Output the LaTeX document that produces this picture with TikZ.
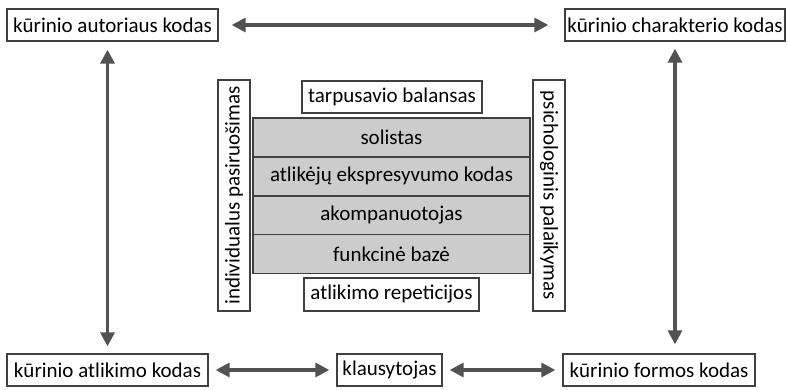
\documentclass[tikz,border=0pt]{standalone}
\usepackage{fontspec}
\setmainfont{Carlito}
\usetikzlibrary{arrows.meta,positioning}

\begin{document}
\begin{tikzpicture}[
  x=1pt, y=-1pt,
  font=\fontsize{21}{23}\selectfont,
  code/.style={rectangle, draw=black!75, line width=1.3pt, fill=white,
               align=center, inner sep=2pt, minimum height=32pt},
  layer/.style={rectangle, draw=black!75, line width=1.3pt, fill=black!20,
                align=center, inner sep=2pt, minimum width=277pt, minimum height=39pt},
  side/.style={rectangle, draw=black!75, line width=1.3pt, fill=white,
               align=center, inner sep=2pt, minimum width=231pt, minimum height=32pt},
  arr/.style={{Triangle[length=14pt,width=14pt]}-{Triangle[length=14pt,width=14pt]},
              line width=3.2pt, draw=black!68},
]
\useasboundingbox (0,0) rectangle (788,390);
% --- corner codes ---
\node[code, minimum width=211pt] (author) at (112.5,25) {kūrinio autoriaus kodas};
\node[code, minimum width=220pt] (charact) at (675,25) {kūrinio charakterio kodas};
\node[code, minimum width=201pt] (perform) at (107.5,370) {kūrinio atlikimo kodas};
\node[code, minimum width=105pt] (listener) at (389.5,370) {klausytojas};
\node[code, minimum width=192pt] (form) at (659,370) {kūrinio formos kodas};
% --- central stack ---
\node[layer] (solo) at (391.5,137.5) {solistas};
\node[layer] (expr) at (391.5,176.5) {atlikėjų ekspresyvumo kodas};
\node[layer] (accomp) at (391.5,215.5) {akompanuotojas};
\node[layer] (base) at (391.5,254) {funkcinė bazė};
\node[code, minimum width=180pt] (balance) at (392,97) {tarpusavio balansas};
\node[code, minimum width=175pt, minimum height=33pt] (rehearse) at (391.5,294.5) {atlikimo repeticijos};
% --- side bars ---
\node[side, rotate=90] (prep) at (234,195.5) {individualus pasiruošimas};
\node[side, rotate=-90] (support) at (549,195.5) {psichologinis palaikymas};
% --- links ---
\draw[arr, shorten <=13pt, shorten >=16pt] (author) -- (charact);
\draw[arr, shorten <=7pt, shorten >=8pt] (perform.north) -- (perform.north |- author.south);
\draw[arr, shorten <=7pt, shorten >=9pt] (charact.south) -- (charact.south |- form.north);
\draw[arr, shorten <=7pt, shorten >=7pt] (perform) -- (listener);
\draw[arr, shorten <=7pt, shorten >=7pt] (listener) -- (form);
\end{tikzpicture}
\end{document}
